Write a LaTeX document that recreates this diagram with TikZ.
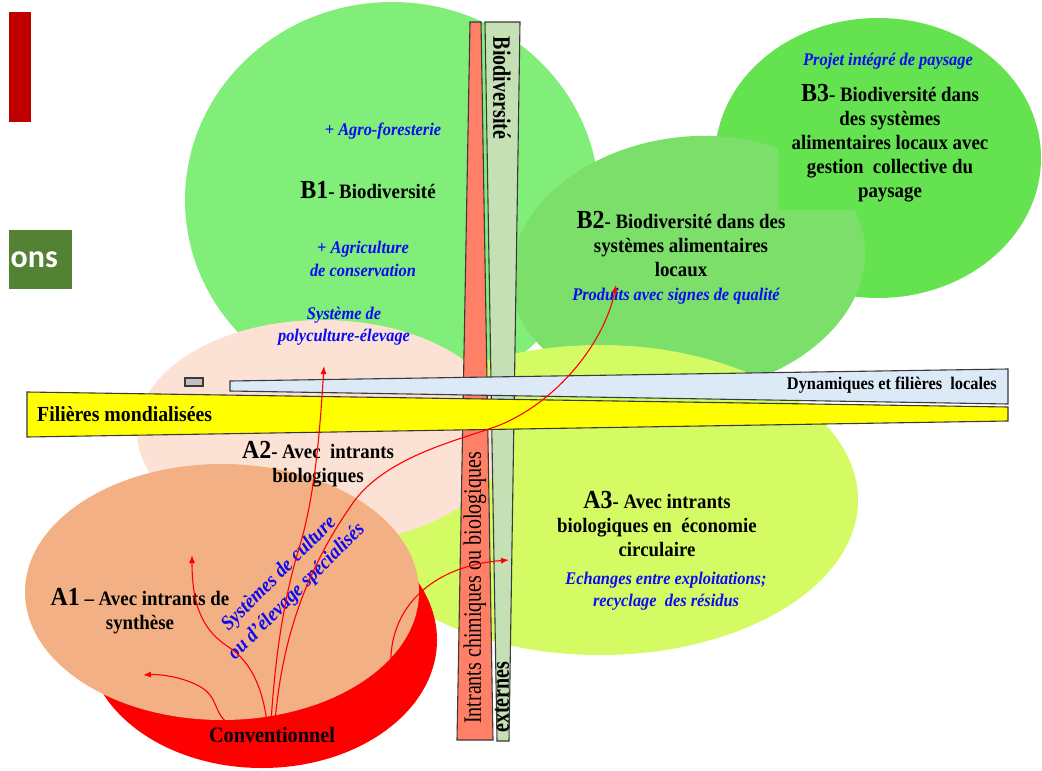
\documentclass[tikz,border=0pt]{standalone}
\usepackage{fontspec}
\setmainfont{Liberation Serif}[FakeStretch=0.92]
\newfontfamily\barfont{Liberation Serif}[FakeStretch=0.8]
\newfontfamily\onsfont{Carlito}
\usetikzlibrary{arrows.meta}
\definecolor{bone}{HTML}{80EE78}
\definecolor{btwo}{HTML}{7BDF6A}
\definecolor{bthree}{HTML}{64E250}
\definecolor{athree}{HTML}{D4FB63}
\definecolor{atwo}{HTML}{FBE2D5}
\definecolor{aone}{HTML}{F2B084}
\definecolor{conv}{HTML}{FF0000}
\definecolor{barred}{HTML}{FF7F67}
\definecolor{bargreen}{HTML}{C5E0B4}
\definecolor{barblue}{HTML}{DCE9F6}
\definecolor{baryellow}{HTML}{FFFF00}
\definecolor{darkred}{HTML}{C00000}
\definecolor{onsgreen}{HTML}{548235}
\definecolor{txtblue}{RGB}{10,10,245}
\definecolor{edge}{HTML}{3A3A3A}
\newcommand\lblpre[1]{{\fontsize{26}{24}\selectfont #1}}
\tikzset{
  lbl/.style={align=center, font=\bfseries\fontsize{20.5}{24}\selectfont, text=black, inner sep=0pt},
  note/.style={align=center, font=\bfseries\itshape\fontsize{17.8}{22.5}\selectfont, text=txtblue, inner sep=0pt},
  bartext/.style={font=\barfont\bfseries\fontsize{25}{26}\selectfont, text=black, inner sep=0pt},
  bar/.style={draw=edge, line width=1.1pt},
  flow/.style={draw=red, line width=1.1pt, -{Latex[length=8pt,width=6pt]}}
}
\begin{document}
\begin{tikzpicture}[x=1pt,y=-1pt]
\useasboundingbox (0,0) rectangle (1042,771);
\clip (0,0) rectangle (1042,771);
\fill[white] (0,0) rectangle (1042,771);

% left fragments
\fill[darkred] (9,12) rectangle (31,122);
\begin{scope}
  \clip (9,230) rectangle (72,289);
  \fill[onsgreen] (9,230) rectangle (72,289);
  \node[anchor=east, text=white, font=\onsfont\bfseries\fontsize{32}{32}\selectfont, inner sep=0pt] (ons) at (58,260) {ons};
\end{scope}

% ellipses
\fill[bone] (392,200) ellipse [x radius=207pt, y radius=198pt];
\fill[bthree] (878,158) ellipse [x radius=163pt, y radius=140pt];
\fill[btwo, rotate around={8:(688,265)}] (688,265) ellipse [x radius=178pt, y radius=128pt];
\fill[bthree] (778,118) rectangle (1000,210);
\fill[athree] (600,500) ellipse [x radius=258pt, y radius=155pt];
\fill[atwo] (322,432) ellipse [x radius=185pt, y radius=112pt];
\fill[conv] (262,640) ellipse [x radius=175pt, y radius=128pt];
\fill[aone] (222,592) ellipse [x radius=197pt, y radius=128pt];

% vertical bars
\draw[bar, fill=barred] (470,22) -- (481,22) -- (493,740) -- (457,740) -- cycle;
\draw[bar, fill=bargreen] (485,22) -- (520,22) -- (509,741) -- (497,741) -- cycle;
\node[bartext, rotate=-90] (biod) at (502,88) {Biodiversité};
\node[bartext, rotate=90, font=\barfont\fontsize{25}{26}\selectfont] (intr) at (475,588) {Intrants chimiques ou biologiques};
\node[bartext, rotate=90] (ext) at (502,697) {externes};

% horizontal bars
\draw[bar, fill=barblue] (230,381) -- (1008,369) -- (1008,404) -- (230,391) -- cycle;
\draw[bar, fill=baryellow] (27,392) -- (1008,407) -- (1008,421) -- (27,437) -- cycle;
\draw[bar, fill=black!25] (185,378) rectangle (203,386);
\node[anchor=east, font=\bfseries\fontsize{17.8}{18}\selectfont, inner sep=0pt] (dyn) at (997,385) {Dynamiques et filières\ \ locales};
\node[anchor=west, font=\bfseries\fontsize{21.5}{22}\selectfont, inner sep=0pt] (mond) at (37,414) {Filières mondialisées};

% labels
\node[lbl] (b1) at (368,190) {\lblpre{B1}- Biodiversité};
\node[note] (agro) at (383,131) {+ Agro-foresterie};
\node[note] (agri) at (363,259) {+ Agriculture\\de conservation};
\node[note] (poly) at (344,326) {Système de\\polyculture-élevage};
\node[lbl] (b2) at (681,244) {\lblpre{B2}- Biodiversité dans des\\systèmes alimentaires\\locaux};
\node[note] (prod) at (676,296) {Produits avec signes de qualité};
\node[note] (proj) at (888,61) {Projet intégré de paysage};
\node[lbl] (b3) at (890,143) {\lblpre{B3}- Biodiversité dans\\des systèmes\\alimentaires locaux avec\\gestion\ \ collective du\\paysage};
\node[lbl] (a2) at (318,464) {\lblpre{A2}- Avec\ \ intrants\\biologiques};
\node[lbl] (a3) at (657,524) {\lblpre{A3}- Avec intrants\\biologiques en\ \ économie\\circulaire};
\node[note] (ech) at (666,591) {Echanges entre exploitations;\\recyclage\ \ des résidus};
\node[lbl] (a1) at (140,611) {\lblpre{A1} – Avec intrants de\\synthèse};
\node[note, rotate=45, font=\bfseries\itshape\fontsize{20.5}{25}\selectfont] (spec) at (288,583) {Systèmes de culture\\ou d’élevage spécialisés};
\node[lbl, font=\bfseries\fontsize{22}{24}\selectfont] (convt) at (272,735) {Conventionnel};

% arrow end points
\coordinate (s1) at (228,723);
\coordinate (s2) at (267,722);
\coordinate (s3) at (271,722);
\coordinate (s4) at (275,722);
\coordinate (s5) at (391,667);
\coordinate (t1) at (143,675);
\coordinate (t2) at (192,555);
\coordinate (t3) at (324,366);
\coordinate (t4) at (616,285);
\coordinate (t5) at (509,560);

\draw[flow] (s1) .. controls (212,712) and (220,695) .. (195,684) .. controls (180,677) and (160,674) .. (t1);
\draw[flow] (s2) .. controls (262,685) and (250,662) .. (230,648) .. controls (205,632) and (192,610) .. (t2);
\draw[flow] (s3) .. controls (275,660) and (283,600) .. (300,545) .. controls (315,495) and (320,430) .. (t3);
\draw[flow] (s4) .. controls (282,640) and (305,570) .. (355,500) .. controls (390,455) and (460,440) .. (500,425) .. controls (560,400) and (605,340) .. (t4);
\draw[flow] (s5) .. controls (388,610) and (430,566) .. (t5);
\end{tikzpicture}
\end{document}
